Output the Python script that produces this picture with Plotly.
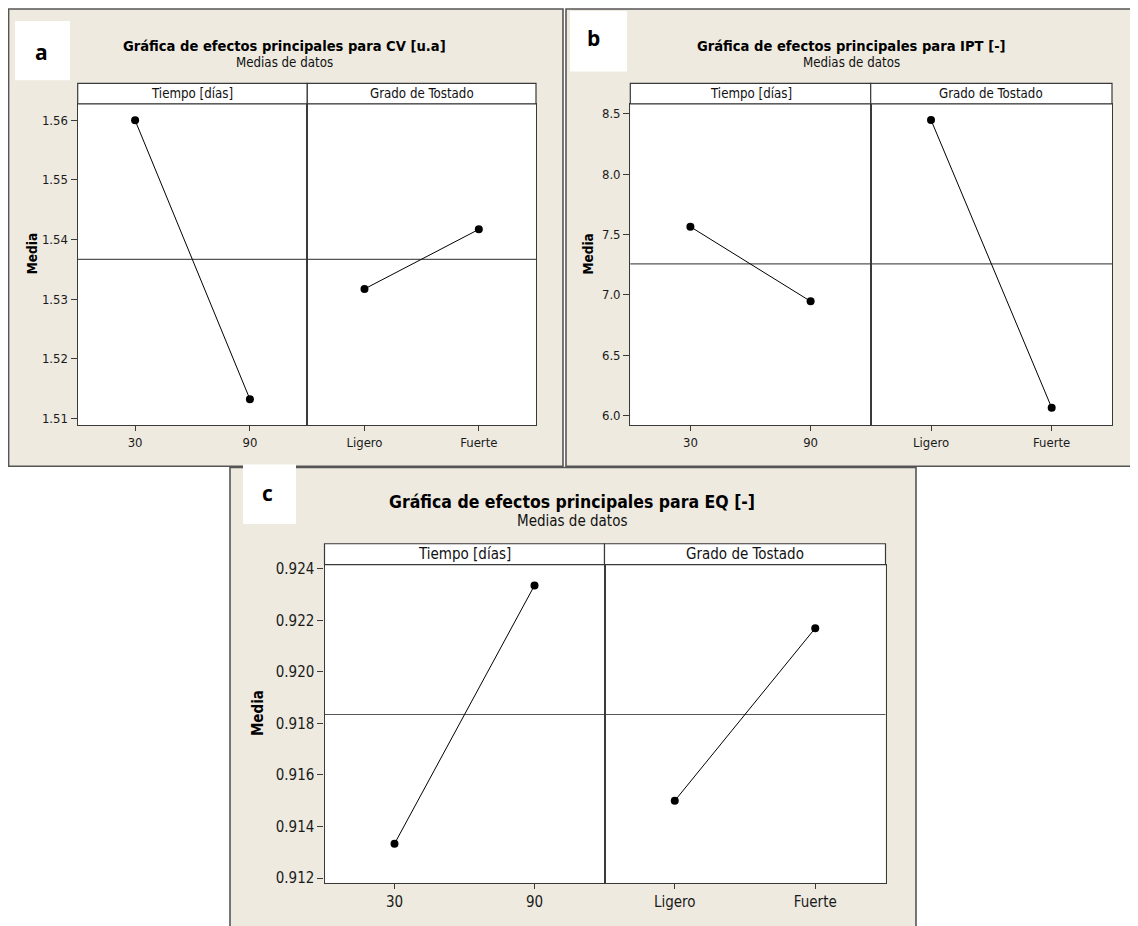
import plotly.graph_objects as go

# ---------------- data ----------------
factor_names = ["Tiempo [días]", "Grado de Tostado"]
tiempo_levels = ["30", "90"]
grado_levels = ["Ligero", "Fuerte"]

cv_tiempo = [1.5600, 1.5132]
cv_grado = [1.5317, 1.5417]

ipt_tiempo = [7.563, 6.945]
ipt_grado = [8.448, 6.063]

eq_tiempo = [0.91333, 0.92336]
eq_grado = [0.91500, 0.92170]

panel_letters = ["a", "b", "c"]
panel_titles = [
    "Gráfica de efectos principales para CV [u.a]",
    "Gráfica de efectos principales para IPT [-]",
    "Gráfica de efectos principales para EQ [-]",
]
subtitle = "Medias de datos"
ylabel = "Media"

cv_ticks = [1.51, 1.52, 1.53, 1.54, 1.55, 1.56]
ipt_ticks = [6.0, 6.5, 7.0, 7.5, 8.0, 8.5]
eq_ticks = [0.912, 0.914, 0.916, 0.918, 0.920, 0.922, 0.924]

# ---------------- layout helpers ----------------
# the page body has an 8px margin, so the figure is offset by 8px
OFF = 8
W, H = 1138 - OFF, 926 - OFF
def px(x):
    return (x - OFF) / W
def py(y):
    return 1 - (y - OFF) / H

BEIGE = "#EEEAE0"
COND = "DejaVu Sans Condensed, DejaVu Sans, sans-serif"

panels = [
    dict(tiempo=cv_tiempo, grado=cv_grado, ticks=cv_ticks, fmt="{:.2f}",
         yrange=[1.50889, 1.56277],
         box=(8.6, 5, 563, 466.7), lab_box=(15, 17, 70, 77), lab_xy=(41, 48),
         title_xy=(284, 42), sub_y=59, strip=(80, 100.7),
         plot_x=(77.7, 307.3, 536), plot_y=(100.7, 425), media_xy=(31.7, 252),
         fsize=13.2, tsize=14.6, ticksize=13, media_size=13.5),
    dict(tiempo=ipt_tiempo, grado=ipt_grado, ticks=ipt_ticks, fmt="{:.1f}",
         yrange=[5.921, 8.582],
         box=(566, 5, 1141, 466.7), lab_box=(570, 7, 627, 68), lab_xy=(593, 34),
         title_xy=(851, 42), sub_y=59, strip=(80, 100.7),
         plot_x=(630.3, 870.7, 1112), plot_y=(100.7, 425), media_xy=(588, 253),
         fsize=13.2, tsize=14.6, ticksize=13, media_size=13.5),
    dict(tiempo=eq_tiempo, grado=eq_grado, ticks=eq_ticks, fmt="{:.3f}",
         yrange=[0.91182, 0.92417],
         box=(230, 468, 916, 932), lab_box=(243, 465, 296, 525), lab_xy=(267, 494),
         title_xy=(572, 503), sub_y=521.7, strip=(545, 566),
         plot_x=(324.5, 604.5, 885.5), plot_y=(566, 887.3), media_xy=(258, 716),
         fsize=15, tsize=17.5, ticksize=15, media_size=15),
]

fig = go.Figure()
shapes = []
annotations = []
layout_axes = {}

k = 0
for p, P in enumerate(panels):
    x0b, y0b, x1b, y1b = P["box"]
    # panel background
    shapes.append(dict(type="rect", xref="paper", yref="paper", layer="below",
                       x0=px(x0b), x1=px(x1b), y0=py(y1b), y1=py(y0b),
                       fillcolor=BEIGE, line=dict(color="#555555", width=1.6)))
    # letter box
    lx0, ly0, lx1, ly1 = P["lab_box"]
    shapes.append(dict(type="rect", xref="paper", yref="paper", layer="below",
                       x0=px(lx0), x1=px(lx1), y0=py(ly1), y1=py(ly0),
                       fillcolor="white", line=dict(width=0)))
    annotations.append(dict(text="<b>%s</b>" % panel_letters[p], xref="paper", yref="paper",
                            x=px(P["lab_xy"][0]), y=py(P["lab_xy"][1]), showarrow=False,
                            xanchor="center", yanchor="middle",
                            font=dict(family="Open Sans, sans-serif", size=21, color="black")))
    # titles
    annotations.append(dict(text="<b>%s</b>" % panel_titles[p], xref="paper", yref="paper",
                            x=px(P["title_xy"][0]), y=py(P["title_xy"][1]), showarrow=False,
                            xanchor="center", yanchor="middle",
                            font=dict(family=COND, size=P["tsize"], color="black")))
    annotations.append(dict(text=subtitle, xref="paper", yref="paper",
                            x=px(P["title_xy"][0]), y=py(P["sub_y"]), showarrow=False,
                            xanchor="center", yanchor="middle",
                            font=dict(family=COND, size=P["fsize"], color="#111111")))
    # y label
    annotations.append(dict(text="<b>%s</b>" % ylabel, xref="paper", yref="paper",
                            x=px(P["media_xy"][0]), y=py(P["media_xy"][1]), showarrow=False,
                            textangle=-90, xanchor="center", yanchor="middle",
                            font=dict(family=COND, size=P["media_size"], color="black")))

    xl, xm, xr = P["plot_x"]
    yt, yb = P["plot_y"]
    st0, st1 = P["strip"]
    tickvals = P["ticks"]
    ticktext = [P["fmt"].format(v) for v in tickvals]
    grand_mean = (sum(P["tiempo"]) / len(P["tiempo"]) + sum(P["grado"]) / len(P["grado"])) / 2

    for f, (levels, vals) in enumerate([(tiempo_levels, P["tiempo"]), (grado_levels, P["grado"])]):
        k += 1
        xs = xl if f == 0 else xm
        xe = xm if f == 0 else xr
        xname = "xaxis" if k == 1 else "xaxis%d" % k
        yname = "yaxis" if k == 1 else "yaxis%d" % k
        xref = "x" if k == 1 else "x%d" % k
        yref = "y" if k == 1 else "y%d" % k

        # white plotting area
        shapes.append(dict(type="rect", xref="paper", yref="paper", layer="below",
                           x0=px(xs), x1=px(xe), y0=py(yb), y1=py(yt),
                           fillcolor="white", line=dict(width=0)))

        fig.add_trace(go.Scatter(x=levels, y=vals, mode="lines+markers",
                                 xaxis=xref, yaxis=yref, showlegend=False,
                                 line=dict(color="black", width=1),
                                 marker=dict(color="black", size=8),
                                 hoverinfo="skip"))
        layout_axes[xname] = dict(domain=[px(xs), px(xe)], anchor=yref, type="category",
                                  categoryorder="array", categoryarray=levels,
                                  range=[-0.5, 1.5], showgrid=False, zeroline=False,
                                  showline=True, mirror=True, linecolor="#3a3a3a", linewidth=1.3,
                                  ticks="outside", ticklen=5, tickcolor="#3a3a3a", tickwidth=1,
                                  tickfont=dict(family=COND, size=P["ticksize"], color="#1a1a1a"),
                                  fixedrange=True)
        layout_axes[yname] = dict(domain=[py(yb), py(yt)], anchor=xref, range=P["yrange"],
                                  showgrid=False, zeroline=False,
                                  showline=True, mirror=True, linecolor="#3a3a3a", linewidth=1.3,
                                  tickvals=tickvals, ticktext=ticktext,
                                  ticks="outside" if f == 0 else "", ticklen=6,
                                  tickcolor="#3a3a3a", tickwidth=1,
                                  showticklabels=(f == 0),
                                  tickfont=dict(family=COND, size=P["ticksize"], color="#1a1a1a"),
                                  fixedrange=True)
        # grand mean reference line
        shapes.append(dict(type="line", xref=xref + " domain", yref=yref, layer="below",
                           x0=0, x1=1, y0=grand_mean, y1=grand_mean,
                           line=dict(color="#555555", width=1.2)))
        # strip
        shapes.append(dict(type="rect", xref="paper", yref="paper", layer="above",
                           x0=px(xs), x1=px(xe), y0=py(yt), y1=py(st0),
                           fillcolor="white", line=dict(color="#3a3a3a", width=1.2)))
        annotations.append(dict(text=factor_names[f], xref="paper", yref="paper",
                                x=px((xs + xe) / 2), y=py((st0 + yt) / 2), showarrow=False,
                                xanchor="center", yanchor="middle",
                                font=dict(family=COND, size=P["fsize"], color="#111111")))

fig.update_layout(width=W, height=H, margin=dict(l=0, r=0, t=0, b=0),
                  paper_bgcolor="white", plot_bgcolor="white",
                  shapes=shapes, annotations=annotations, showlegend=False,
                  **layout_axes)

fig.write_html("out.html", config={"displayModeBar": False})
